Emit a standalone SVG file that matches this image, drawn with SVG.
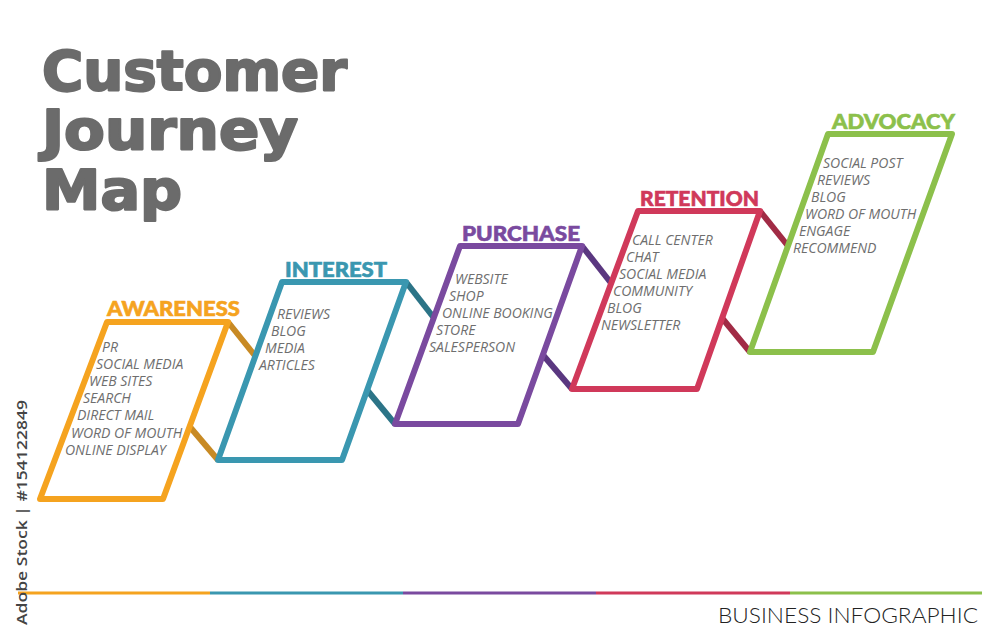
<svg xmlns="http://www.w3.org/2000/svg" width="1000" height="643" viewBox="0 0 1000 643">
<style>
.panel{fill:#fff;stroke-width:6;stroke-linejoin:round}
.conn{stroke-width:6;fill:none}
.head{font-family:Lato,"DejaVu Sans",sans-serif;font-weight:900;font-size:20px;stroke-width:0.6}
.item{font-family:"Open Sans","DejaVu Sans",sans-serif;font-style:italic;font-weight:400;font-size:14px;fill:#6e6e6e}
.title{font-family:"DejaVu Sans",Verdana,sans-serif;font-weight:bold;font-size:55px;fill:#6b6b6b;stroke:#6b6b6b;stroke-width:2.2;stroke-linejoin:round}
</style>
<rect width="1000" height="643" fill="#fff"/>
<g id="title">
<text class="title" x="42" y="90" textLength="305" lengthAdjust="spacingAndGlyphs">Customer</text>
<text class="title" x="42" y="149" textLength="256" lengthAdjust="spacingAndGlyphs">Journey</text>
<text class="title" x="42" y="209" textLength="140" lengthAdjust="spacingAndGlyphs">Map</text>
</g>
<g id="connectors">
<line class="conn" stroke="#C88A24" x1="228" y1="322" x2="256" y2="357"/>
<line class="conn" stroke="#C88A24" x1="190" y1="427" x2="218" y2="460"/>
<line class="conn" stroke="#2C7487" x1="406" y1="282" x2="434" y2="318"/>
<line class="conn" stroke="#2C7487" x1="367" y1="390" x2="395" y2="424"/>
<line class="conn" stroke="#5A3780" x1="582" y1="246" x2="611" y2="283"/>
<line class="conn" stroke="#5A3780" x1="543" y1="355" x2="572" y2="389"/>
<line class="conn" stroke="#A12B45" x1="760" y1="211" x2="788" y2="246"/>
<line class="conn" stroke="#A12B45" x1="722" y1="318" x2="750" y2="352"/>
</g>
<g id="awareness">
<polygon class="panel" stroke="#F5A31F" points="107,322 228,322 163,499 40,499"/>
<text class="head" fill="#F5A31F" stroke="#F5A31F" x="107" y="316" textLength="133" lengthAdjust="spacingAndGlyphs">AWARENESS</text>
<text class="item" x="102" y="352">PR</text>
<text class="item" x="96" y="369">SOCIAL MEDIA</text>
<text class="item" x="89" y="386">WEB SITES</text>
<text class="item" x="83" y="403">SEARCH</text>
<text class="item" x="77" y="420">DIRECT MAIL</text>
<text class="item" x="71" y="438">WORD OF MOUTH</text>
<text class="item" x="65" y="455">ONLINE DISPLAY</text>
</g>
<g id="interest">
<polygon class="panel" stroke="#3A97B0" points="282,282 406,282 342,460 218,460"/>
<text class="head" fill="#3A97B0" stroke="#3A97B0" x="285" y="277" textLength="102" lengthAdjust="spacingAndGlyphs">INTEREST</text>
<text class="item" x="277" y="319">REVIEWS</text>
<text class="item" x="271" y="336">BLOG</text>
<text class="item" x="265" y="353">MEDIA</text>
<text class="item" x="259" y="370">ARTICLES</text>
</g>
<g id="purchase">
<polygon class="panel" stroke="#7A4A9F" points="460,246 582,246 518,424 395,424"/>
<text class="head" fill="#7A4A9F" stroke="#7A4A9F" x="462" y="241" textLength="118" lengthAdjust="spacingAndGlyphs">PURCHASE</text>
<text class="item" x="455" y="284">WEBSITE</text>
<text class="item" x="449" y="301">SHOP</text>
<text class="item" x="442" y="318">ONLINE BOOKING</text>
<text class="item" x="436" y="335">STORE</text>
<text class="item" x="429" y="352">SALESPERSON</text>
</g>
<g id="retention">
<polygon class="panel" stroke="#D0395A" points="638,211 760,211 697,389 572,389"/>
<text class="head" fill="#D0395A" stroke="#D0395A" x="640" y="206" textLength="119" lengthAdjust="spacingAndGlyphs">RETENTION</text>
<text class="item" x="632" y="245">CALL CENTER</text>
<text class="item" x="626" y="262">CHAT</text>
<text class="item" x="619" y="279">SOCIAL MEDIA</text>
<text class="item" x="613" y="296">COMMUNITY</text>
<text class="item" x="607" y="313">BLOG</text>
<text class="item" x="601" y="330">NEWSLETTER</text>
</g>
<g id="advocacy">
<polygon class="panel" stroke="#8CC04B" points="828,134 952,134 873,352 750,352"/>
<text class="head" fill="#8CC04B" stroke="#8CC04B" x="832" y="129" textLength="123" lengthAdjust="spacingAndGlyphs">ADVOCACY</text>
<text class="item" x="823" y="168">SOCIAL POST</text>
<text class="item" x="817" y="185">REVIEWS</text>
<text class="item" x="811" y="202">BLOG</text>
<text class="item" x="805" y="219">WORD OF MOUTH</text>
<text class="item" x="799" y="236">ENGAGE</text>
<text class="item" x="793" y="253">RECOMMEND</text>
</g>
<g id="baseline" stroke-width="3">
<line x1="18" y1="593" x2="210" y2="593" stroke="#F5A31F"/>
<line x1="210" y1="593" x2="403" y2="593" stroke="#3A97B0"/>
<line x1="403" y1="593" x2="596" y2="593" stroke="#7A4A9F"/>
<line x1="596" y1="593" x2="790" y2="593" stroke="#D0395A"/>
<line x1="790" y1="593" x2="982" y2="593" stroke="#8CC04B"/>
</g>
<text x="718" y="623" font-family="Lato,'Open Sans',sans-serif" font-weight="300" font-size="22" fill="#222" textLength="260" lengthAdjust="spacingAndGlyphs">BUSINESS INFOGRAPHIC</text>
<text transform="translate(27,625) rotate(-90)" font-family="'Open Sans','DejaVu Sans',sans-serif" font-weight="600" font-size="14" fill="#444" textLength="225" lengthAdjust="spacingAndGlyphs">Adobe Stock | #154122849</text>
</svg>
